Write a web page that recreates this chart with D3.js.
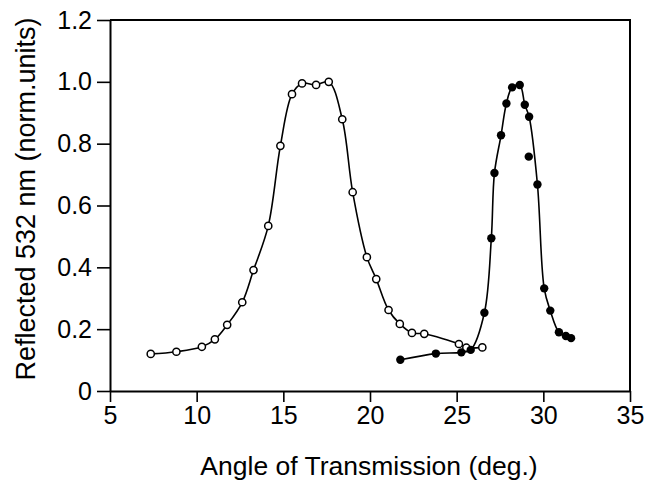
<!DOCTYPE html>
<html>
<head>
<meta charset="utf-8">
<script src="https://cdn.jsdelivr.net/npm/d3@7/dist/d3.min.js"></script>
<style>
  body { margin: 0; background: #fff; }
  text { font-family: "Liberation Sans", Arial, sans-serif; fill: #000; }
</style>
</head>
<body>
<div id="chart"></div>
<script>
// open circles (first peak)
const openAngle = [7.35, 8.83, 10.3, 11.05, 11.76, 12.63, 13.28, 14.13, 14.83, 15.5, 16.08, 16.89, 17.62, 18.4, 19.0, 19.82, 20.36, 21.07, 21.72, 22.42, 23.13, 25.13, 25.56, 26.48]
const openValue = [0.12, 0.127, 0.143, 0.167, 0.214, 0.287, 0.391, 0.534, 0.793, 0.96, 0.995, 0.99, 1.0, 0.879, 0.643, 0.433, 0.362, 0.262, 0.217, 0.188, 0.185, 0.152, 0.14, 0.141]

// filled circles (second peak)
const filledAngle = [21.75, 23.8, 25.27, 25.81, 26.6, 27.0, 27.18, 27.56, 27.87, 28.2, 28.64, 28.93, 29.18, 29.66, 30.05, 30.4, 30.9, 31.3, 31.6]
const filledValue = [0.101, 0.121, 0.125, 0.133, 0.253, 0.494, 0.705, 0.827, 0.93, 0.982, 0.99, 0.926, 0.887, 0.668, 0.332, 0.26, 0.19, 0.178, 0.171]
// filled point that sits off the drawn curve
const filledOffAngle = [29.16]
const filledOffValue = [0.758]

const xTicks = [5, 10, 15, 20, 25, 30, 35]
const yTicks = [0, 0.2, 0.4, 0.6, 0.8, 1.0, 1.2]

const width = 656
const height = 487
const marginLeft = 110
const marginRight = 26
const marginTop = 20
const marginBottom = 96

const x = d3.scaleLinear().domain([5, 35]).range([marginLeft, width - marginRight])
const y = d3.scaleLinear().domain([0, 1.2]).range([height - marginBottom, marginTop])

const svg = d3.select("#chart").append("svg")
    .attr("width", width)
    .attr("height", height)
    .attr("viewBox", [0, 0, width, height])

const zip = (a, b) => a.map((v, i) => [v, b[i]])
const openPts = zip(openAngle, openValue)
const filledPts = zip(filledAngle, filledValue)
const filledOff = zip(filledOffAngle, filledOffValue)

// frame (top and right)
svg.append("path")
    .attr("d", `M${x(5)},${y(1.2)}H${x(35)}V${y(0)}`)
    .attr("fill", "none")
    .attr("stroke", "#000")
    .attr("stroke-width", 2)

// bottom axis
svg.append("g")
    .attr("transform", `translate(0,${y(0)})`)
    .call(d3.axisBottom(x).tickValues(xTicks).tickSize(11).tickPadding(4).tickSizeOuter(0))
    .call(g => g.select(".domain").attr("stroke-width", 2))
    .call(g => g.selectAll(".tick line").attr("stroke-width", 1.6))
    .call(g => g.selectAll(".tick text").attr("font-size", 25).attr("font-family", null))

// left axis
svg.append("g")
    .attr("transform", `translate(${x(5)},0)`)
    .call(d3.axisLeft(y).tickValues(yTicks).tickSize(13).tickPadding(5).tickSizeOuter(0)
        .tickFormat(d => d === 0 ? "0" : d3.format(".1f")(d)))
    .call(g => g.select(".domain").attr("stroke-width", 2))
    .call(g => g.selectAll(".tick line").attr("stroke-width", 1.6))
    .call(g => g.selectAll(".tick text").attr("font-size", 25).attr("font-family", null))

// axis titles
svg.append("text")
    .attr("x", 369)
    .attr("y", 475)
    .attr("text-anchor", "middle")
    .attr("font-size", 26.5)
    .text("Angle of Transmission (deg.)")

svg.append("text")
    .attr("transform", `translate(35,199) rotate(-90)`)
    .attr("text-anchor", "middle")
    .attr("font-size", 27)
    .text("Reflected 532 nm (norm.units)")

const line = d3.line()
    .x(d => x(d[0]))
    .y(d => y(d[1]))
    .curve(d3.curveCatmullRom.alpha(0.5))

svg.append("path")
    .datum(openPts)
    .attr("d", line)
    .attr("fill", "none")
    .attr("stroke", "#000")
    .attr("stroke-width", 1.6)

svg.append("path")
    .datum(filledPts)
    .attr("d", line)
    .attr("fill", "none")
    .attr("stroke", "#000")
    .attr("stroke-width", 1.6)

svg.append("g")
    .selectAll("circle")
    .data(openPts)
    .join("circle")
    .attr("cx", d => x(d[0]))
    .attr("cy", d => y(d[1]))
    .attr("r", 3.6)
    .attr("fill", "#fff")
    .attr("stroke", "#000")
    .attr("stroke-width", 1.5)

svg.append("g")
    .selectAll("circle")
    .data(filledPts.concat(filledOff))
    .join("circle")
    .attr("cx", d => x(d[0]))
    .attr("cy", d => y(d[1]))
    .attr("r", 4.2)
    .attr("fill", "#000")
</script>
</body>
</html>
